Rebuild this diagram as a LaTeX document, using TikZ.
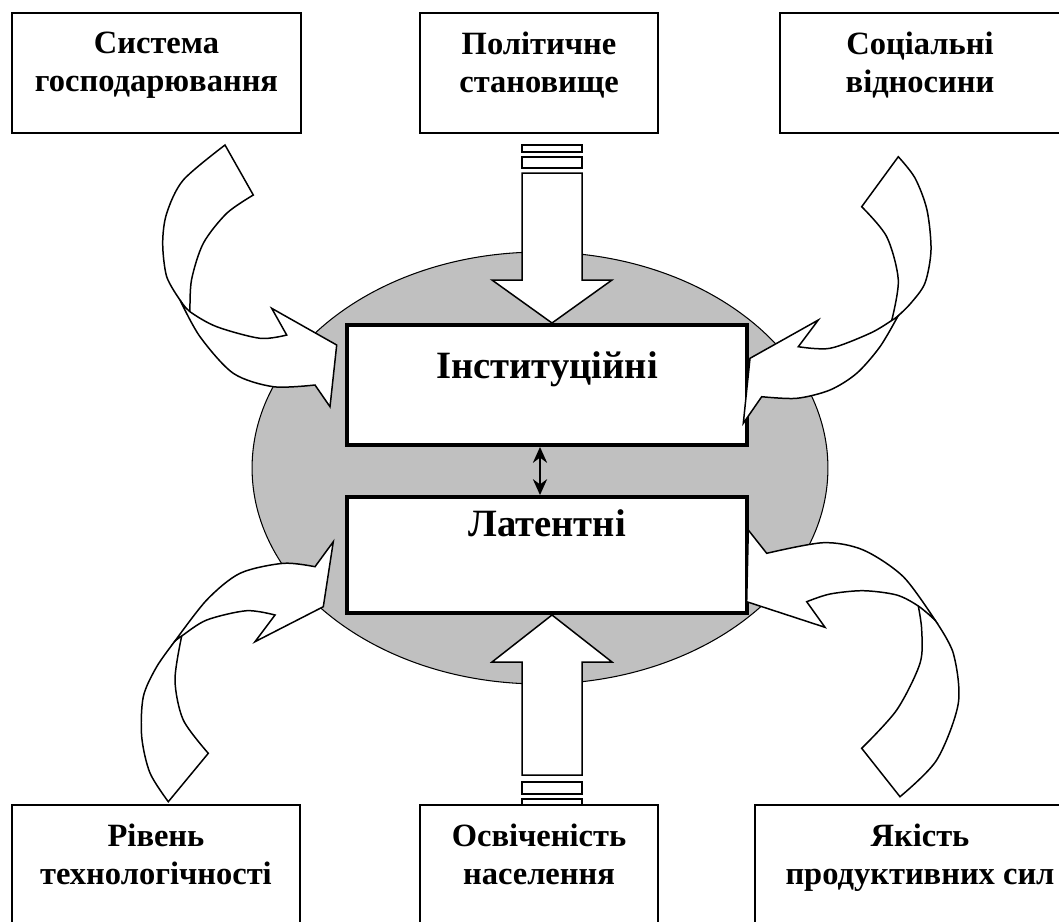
\documentclass[tikz,border=0pt]{standalone}
\usepackage{fontspec}
\setmainfont{Liberation Serif}
\usepackage{xcolor}
\usetikzlibrary{arrows.meta,positioning}
\definecolor{coregray}{HTML}{C0C0C0}

\tikzset{
  factor/.style={draw, line width=1.2pt, fill=white, minimum height=2.4cm, inner sep=0},
  kind/.style={draw, line width=2.2pt, fill=white, minimum width=8cm, inner sep=0},
  lbl/.style={align=center, inner sep=0, font=\fontsize{18.5}{21.5}\selectfont\bfseries},
  biglbl/.style={inner sep=0, font=\fontsize{22}{26}\selectfont\bfseries},
  flow/.style={draw, fill=white, line width=0.85pt, line join=miter},
}

\begin{document}
\begin{tikzpicture}[x=0.02cm, y=-0.02cm]
\useasboundingbox (0,0) rectangle (1059,921);

% core
\filldraw[fill=coregray, line width=0.6pt] (540,468) ellipse [x radius=5.76cm, y radius=4.32cm];
\node[kind, minimum height=2.4cm] (inst) at (547,385) {};
\node[kind, minimum height=2.32cm] (lat) at (547,555) {};
\node[biglbl, below=0.56cm of inst.north] (insttxt) {Інституційні};
\node[biglbl, below=0.28cm of lat.north] (lattxt) {Латентні};
\draw[line width=1.6pt, {Stealth[length=9pt,width=8pt]}-{Stealth[length=9pt,width=8pt]}]
  ([xshift=-0.14cm]inst.south) -- ([xshift=-0.14cm]lat.north);

% factors
\node[factor, minimum width=5.78cm] (sys) at (156.5,73) {};
\node[factor, minimum width=4.76cm] (pol) at (539,73) {};
\node[factor, minimum width=5.6cm] (soc) at (920,73) {};
\node[factor, minimum width=5.76cm] (tech) at (156,865) {};
\node[factor, minimum width=4.76cm] (edu) at (539,865) {};
\node[factor, minimum width=6.6cm] (prod) at (920,865) {};

\node[lbl, below=0.4cm of sys.north] (systxt) {Система\\господарювання};
\node[lbl, below=0.4cm of pol.north] (poltxt) {Політичне\\становище};
\node[lbl, below=0.4cm of soc.north] (soctxt) {Соціальні\\відносини};
\node[lbl, below=0.4cm of tech.north] (techtxt) {Рівень\\технологічності};
\node[lbl, below=0.4cm of edu.north] (edutxt) {Освіченість\\населення};
\node[lbl, below=0.4cm of prod.north] (prodtxt) {Якість\\продуктивних сил};

% straight arrows
\filldraw[flow] (522,145) rectangle (582,152);
\filldraw[flow] (522,157) rectangle (582,168);
\filldraw[flow] (522,173) -- (582,173) -- (582,280) -- (612,280) -- (552,323) -- (492,280) -- (522,280) -- cycle;
\filldraw[flow] (552,615) -- (612,662) -- (582,662) -- (582,775) -- (522,775) -- (522,662) -- (492,662) -- cycle;
\filldraw[flow] (522,782) rectangle (582,794);
\filldraw[flow] (522,799) rectangle (582,805);

% curved arrows: tail first, head over it
\filldraw[flow] plot[smooth] coordinates {(225,145) (183.3,180) (166.7,213.3) (162.7,243.3) (166.7,276.7) (180,300)}
  -- (190,316) -- plot[smooth] coordinates {(190,311.7) (191.5,280) (203.3,243.3) (226.7,213.3) (253.3,195)} -- cycle;
\filldraw[flow] plot[smooth] coordinates {(180,300) (190,311.7) (216.7,326.7) (260,338.3) (286.7,335)}
  -- (271.7,308.3) -- (336.7,345) -- (330,406.7)
  -- plot[smooth] coordinates {(315,385) (273.3,386.7) (233.3,373.3) (200,336.7) (180,300)} -- cycle;

\filldraw[flow] plot[smooth] coordinates {(898.3,156.7) (915,178) (927,210) (931,250) (925,283) (911,303) (898,316)}
  -- (891,325) -- plot[smooth] coordinates {(891.7,320.5) (898.3,280) (886.7,236.7) (861.7,206.7)} -- cycle;
\filldraw[flow] plot[smooth] coordinates {(898,316) (891.7,320.5) (870,333.3) (830,348.3) (798.3,346.7)}
  -- (818.3,320) -- (750,358.3) -- (743.3,423.3)
  -- plot[smooth] coordinates {(761.7,396.7) (796.7,398.3) (830,390) (856.7,373.3) (880,346.7) (898,316)} -- cycle;

\filldraw[flow] plot[smooth] coordinates {(168.3,801.7) (150,773) (141.7,736.7) (143.3,696.7) (156.7,666.7) (175,641)}
  -- (182.3,633) -- plot[smooth] coordinates {(181.7,636) (175,680) (183.3,720) (208.3,753.3)} -- cycle;
\filldraw[flow] plot[smooth] coordinates {(175,641) (181.7,636) (206.7,620) (246.7,610.7) (275,615)}
  -- (255,641.7) -- (323.3,606.7) -- (333.3,541.7)
  -- plot[smooth] coordinates {(315,566.7) (283.3,563.3) (240,573.3) (206.7,600) (175,641)} -- cycle;

\filldraw[flow] plot[smooth] coordinates {(900,796.7) (936.7,760) (958.3,703.3) (953.3,653.3) (935,620)}
  -- (917.6,601) -- plot[smooth] coordinates {(918.3,606) (921.7,630) (920,663.3) (896.7,710) (861.7,748.3)} -- cycle;
\filldraw[flow] plot[smooth] coordinates {(935,620) (918.3,606) (896.7,595) (863.3,590.7) (830,594) (806.7,601.7)}
  -- (825,627.3) -- (746.7,601.7) -- (748.3,530)
  -- plot[smooth] coordinates {(766.7,553.3) (823.3,542.7) (863.3,550) (903.3,576.7) (935,620)} -- cycle;
\end{tikzpicture}
\end{document}
